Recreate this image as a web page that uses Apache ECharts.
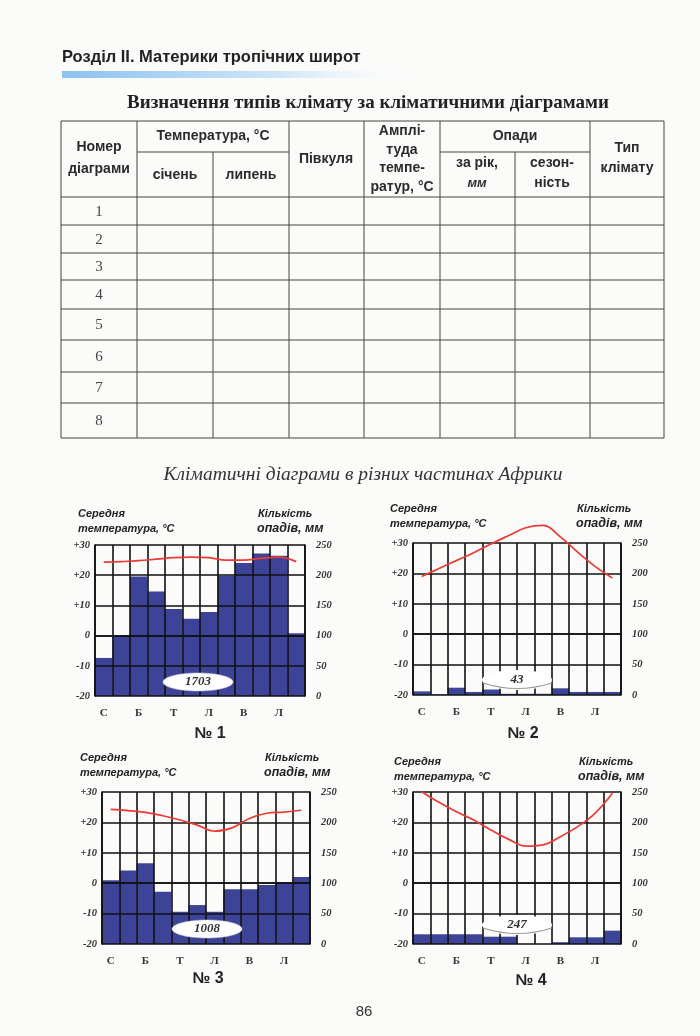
<!DOCTYPE html>
<html>
<head>
<meta charset="utf-8">
<script src="https://cdn.jsdelivr.net/npm/echarts@6/dist/echarts.min.js"></script>
<style>
  html, body { margin: 0; padding: 0; background: #fbfbf9; }
  #page { width: 700px; height: 1036px; }
</style>
</head>
<body>
<div id="page"></div>
<script>
// місяці (перші літери) – підписи осі X
var months = ['С', 'Л', 'Б', 'К', 'Т', 'Ч', 'Л', 'С', 'В', 'Ж', 'Л', 'Г'];

// діаграма № 1
var temp1 = [24.3, 24.5, 24.8, 25.3, 25.8, 26, 25.8, 25, 25, 25.6, 26, 24.5];
var rain1 = [63, 100, 198, 173, 144, 128, 139, 199, 220, 236, 232, 104];
// діаграма № 2
var temp2 = [19, 21.6, 24.2, 26.8, 29.7, 32.4, 35, 35.8, 32, 27, 22.3, 18.5];
var rain2 = [6, 1, 12, 5, 9, 2, 2, 2, 11, 5, 5, 5];
// діаграма № 3
var temp3 = [24.3, 23.9, 23.3, 22.2, 20.8, 19.1, 17.1, 18.2, 21.3, 23, 23.4, 24];
var rain3 = [105, 121, 133, 86, 53, 64, 53, 90, 90, 97, 101, 110];
// діаграма № 4
var temp4 = [30.1, 26.6, 23.5, 20.8, 17.5, 14.5, 12.2, 12.6, 15.3, 18.6, 23, 29.6];
var rain4 = [16, 16, 16, 16, 12, 12, 0, 0, 3, 11, 11, 22];

// річна сума опадів (підписи на діаграмах)
var totals = ['1703', '43', '1008', '247'];
var numbers = ['№ 1', '№ 2', '№ 3', '№ 4'];

// шкали
var tempMin = -20, tempMax = 30, tempStep = 10;
var rainMin = 0, rainMax = 250, rainStep = 50;

// номери рядків таблиці
var rowNums = ['1', '2', '3', '4', '5', '6', '7', '8'];

var temps = [temp1, temp2, temp3, temp4];
var rains = [rain1, rain2, rain3, rain4];

// розміщення діаграм на сторінці
var boxes = [
  { left: 95, top: 545, width: 210, height: 151 },
  { left: 413, top: 543, width: 208, height: 152 },
  { left: 102, top: 792, width: 208, height: 152 },
  { left: 413, top: 792, width: 208, height: 152 }
];

var page = echarts.init(document.getElementById('page'));

var serif = "'Liberation Serif', 'DejaVu Serif', serif";
var sans = "'Liberation Sans', Arial, sans-serif";
var ink = '#2b2b2b';

var grids = [], xAxes = [], yAxes = [], series = [];

boxes.forEach(function (b, i) {
  grids.push({ left: b.left, top: b.top, width: b.width, height: b.height });

  xAxes.push({
    type: 'category',
    gridIndex: i,
    data: months,
    z: 3,
    axisLine: { lineStyle: { color: '#111', width: 1.6 } },
    axisTick: { show: false },
    axisLabel: {
      interval: 1,
      margin: 12,
      color: '#333',
      fontFamily: serif,
      fontWeight: 'bold',
      fontSize: 11
    },
    splitLine: { show: true, interval: 0, lineStyle: { color: '#111', width: 1.6 } }
  });

  // ліва вісь – температура
  yAxes.push({
    type: 'value',
    gridIndex: i,
    min: tempMin, max: tempMax, interval: tempStep,
    z: 3,
    axisLine: { show: true, lineStyle: { color: '#111', width: 1.6 } },
    axisTick: { show: false },
    axisLabel: {
      margin: 5,
      color: '#333',
      fontFamily: serif,
      fontStyle: 'italic',
      fontWeight: 'bold',
      fontSize: 10.5,
      formatter: function (v) { return v > 0 ? '+' + v : String(v); }
    },
    splitLine: { show: true, lineStyle: { color: '#111', width: 1.6 } }
  });

  // права вісь – опади
  yAxes.push({
    type: 'value',
    gridIndex: i,
    position: 'right',
    min: rainMin, max: rainMax, interval: rainStep,
    z: 3,
    axisLine: { show: true, lineStyle: { color: '#111', width: 1.6 } },
    axisTick: { show: false },
    axisLabel: {
      margin: 11,
      color: '#333',
      fontFamily: serif,
      fontStyle: 'italic',
      fontWeight: 'bold',
      fontSize: 10.5
    },
    splitLine: { show: false }
  });

  series.push({
    type: 'bar',
    xAxisIndex: i,
    yAxisIndex: i * 2 + 1,
    data: rains[i],
    barCategoryGap: '0%',
    itemStyle: { color: '#3d4498' },
    z: 1,
    silent: true
  });

  series.push({
    type: 'line',
    xAxisIndex: i,
    yAxisIndex: i * 2,
    data: temps[i],
    smooth: 0.4,
    symbol: 'none',
    clip: false,
    lineStyle: { color: '#ec3b36', width: 1.7 },
    z: 5,
    silent: true
  });
});

// ---- графіка: заголовки, таблиця, підписи ----
var g = [];

function txt(s, x, y, font, align, extra) {
  var el = {
    type: 'text',
    z: 20,
    style: {
      text: s, x: x, y: y, font: font,
      fill: ink,
      textAlign: align || 'center',
      textVerticalAlign: 'middle'
    }
  };
  if (extra) { for (var k in extra) el.style[k] = extra[k]; }
  g.push(el);
}
function line(x1, y1, x2, y2, w, c) {
  g.push({
    type: 'line', z: 20,
    shape: { x1: x1, y1: y1, x2: x2, y2: y2 },
    style: { stroke: c || '#444', lineWidth: w || 1 }
  });
}

// шапка сторінки
txt('Розділ II. Материки тропічних широт', 62, 57, 'bold 16.5px ' + sans, 'left', { fill: '#222' });
g.push({
  type: 'rect', z: 20,
  shape: { x: 62, y: 71, width: 365, height: 7 },
  style: {
    fill: {
      type: 'linear', x: 0, y: 0, x2: 1, y2: 0,
      colorStops: [
        { offset: 0, color: '#8cc2ef' },
        { offset: 0.6, color: '#cfe6f9' },
        { offset: 1, color: 'rgba(255,255,255,0)' }
      ]
    }
  }
});
txt('Визначення типів клімату за кліматичними діаграмами', 368, 103, 'bold 19px ' + serif, 'center', { fill: '#222' });

// таблиця
var cx = [61, 137, 213, 289, 364, 440, 515, 590, 664];
var ry = [197, 225, 253, 280, 309, 340, 372, 403, 438];
var tTop = 121, tMid = 152, tBot = 438;
line(cx[0], tTop, cx[8], tTop, 1.2);
ry.forEach(function (y) { line(cx[0], y, cx[8], y, 1); });
line(cx[1], tMid, cx[3], tMid, 1);
line(cx[5], tMid, cx[7], tMid, 1);
cx.forEach(function (x, k) {
  var top = (k === 2 || k === 6) ? tMid : tTop;
  line(x, top, x, tBot, 1);
});

var hf = 'bold 14px ' + sans;
txt('Номер\nдіаграми', 99, 158, hf, 'center', { lineHeight: 22 });
txt('Температура, °C', 213, 136, hf);
txt('січень', 175, 175, hf);
txt('липень', 251, 175, hf);
txt('Півкуля', 326, 159, hf);
txt('Амплі-\nтуда\nтемпе-\nратур, °C', 402, 159, hf, 'center', { lineHeight: 18.5 });
txt('Опади', 515, 136, hf);
g.push({
  type: 'text', z: 20,
  style: {
    text: '{a|за рік,}\n{b|мм}', x: 477, y: 173,
    textAlign: 'center', textVerticalAlign: 'middle',
    rich: {
      a: { font: hf, fill: ink, lineHeight: 20, align: 'center' },
      b: { font: 'italic bold 13px ' + sans, fill: ink, lineHeight: 20, align: 'center' }
    }
  }
});
txt('сезон-\nність', 552, 173, hf, 'center', { lineHeight: 20 });
txt('Тип\nклімату', 627, 158, hf, 'center', { lineHeight: 20 });

rowNums.forEach(function (n, k) {
  txt(n, 99, (ry[k] + ry[k + 1]) / 2 + 1, '15px ' + serif, 'center', { fill: '#444' });
});

// підзаголовок
txt('Кліматичні діаграми в різних частинах Африки', 363, 475, 'italic 19.5px ' + serif, 'center', { fill: '#333' });

// підписи осей діаграм
var af = 'italic bold 11px ' + sans;
var af2 = 'italic bold 12.5px ' + sans;
var axisTitles = [
  { lx: 78, ly: 514, rx: 258, ry: 514 },
  { lx: 390, ly: 509, rx: 577, ry: 509 },
  { lx: 80, ly: 758, rx: 265, ry: 758 },
  { lx: 394, ly: 762, rx: 579, ry: 762 }
];
axisTitles.forEach(function (a) {
  txt('Середня', a.lx, a.ly, af, 'left', { fill: '#222' });
  txt('температура, °C', a.lx, a.ly + 15, af, 'left', { fill: '#222' });
  txt('Кількість', a.rx, a.ry, af, 'left', { fill: '#222' });
  txt('опадів, мм', a.rx - 1, a.ry + 15, af2, 'left', { fill: '#222' });
});

// номери діаграм
var numPos = [[210, 734], [523, 734], [208, 979], [531, 981]];
numbers.forEach(function (s, k) {
  txt(s, numPos[k][0], numPos[k][1], 'bold 16px ' + sans, 'center', { fill: '#222' });
});

// річні суми опадів
var totPos = [[198, 682], [517, 680], [207, 929], [517, 925]];
totals.forEach(function (s, k) {
  var p = totPos[k];
  var oval = (k === 0 || k === 2);
  g.push({
    type: 'ellipse', z: 18,
    shape: { cx: p[0], cy: p[1], rx: 35, ry: oval ? 9 : 10 },
    style: { fill: '#ffffff', stroke: oval ? '#c8c8d8' : null, lineWidth: 0.6 }
  });
  if (!oval) {
    g.push({
      type: 'bezierCurve', z: 19,
      shape: { x1: p[0] - 34, y1: p[1] + 3, cpx1: p[0], cpy1: p[1] + 14, x2: p[0] + 35, y2: p[1] + 3 },
      style: { stroke: '#9a9a9a', lineWidth: 1.2, fill: null }
    });
  }
  txt(s, p[0], p[1], 'italic bold 13px ' + serif, 'center', { fill: '#333' });
});

// номер сторінки
txt('86', 364, 1012, '15px ' + sans, 'center', { fill: '#333' });

var option = {
  backgroundColor: '#fbfbf9',
  animation: false,
  grid: grids,
  xAxis: xAxes,
  yAxis: yAxes,
  series: series,
  graphic: g
};

page.setOption(option);
</script>
</body>
</html>
